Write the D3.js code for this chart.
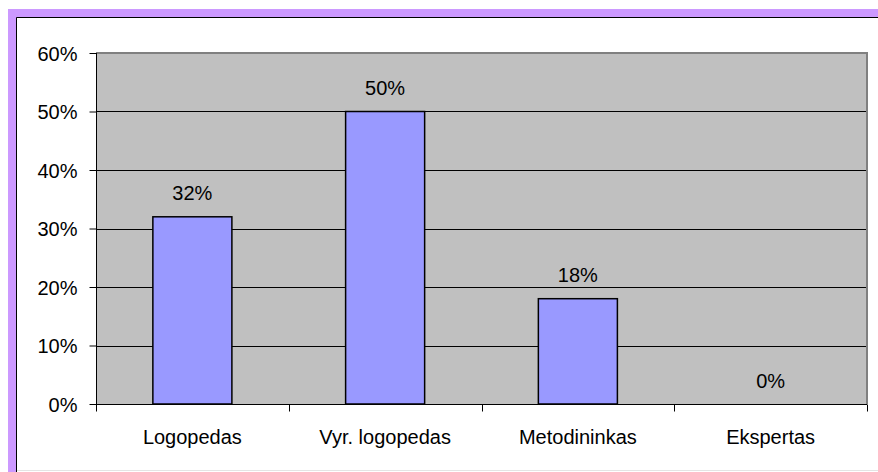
<!DOCTYPE html>
<html>
<head>
<meta charset="utf-8">
<script src="https://cdn.jsdelivr.net/npm/d3@7"></script>
<style>
  html, body { margin: 0; padding: 0; background: #fff; }
  svg { display: block; font-family: "Liberation Sans", Arial, sans-serif; }
</style>
</head>
<body>
<svg id="chart" width="878" height="472"></svg>
<script>
// chart data
const categories = ["Logopedas", "Vyr. logopedas", "Metodininkas", "Ekspertas"];
const shares = [32, 50, 18, 0];
const yTicks = [0, 10, 20, 30, 40, 50, 60];

var svg = d3.select("#chart"),
    width = +svg.attr("width"),
    height = +svg.attr("height");

// purple frame with black inner edge
svg.append("rect").attr("x", 8).attr("y", 9).attr("width", width).attr("height", height)
  .attr("fill", "#CC99FF");
svg.append("rect").attr("x", 17).attr("y", 18).attr("width", width).attr("height", height)
  .attr("fill", "#fff");
svg.append("line").attr("x1", 16.5).attr("x2", width).attr("y1", 17.5).attr("y2", 17.5)
  .attr("stroke", "#000");
svg.append("line").attr("x1", 16.5).attr("x2", 16.5).attr("y1", 17.5).attr("y2", height)
  .attr("stroke", "#000");
svg.append("line").attr("x1", 17).attr("x2", width).attr("y1", 470.5).attr("y2", 470.5)
  .attr("stroke", "#e4e4e4");

const plot = { left: 96, top: 53, right: 867, bottom: 404 };

var x = d3.scaleBand()
    .domain(categories)
    .range([plot.left, plot.right])
    .paddingInner(0.59)
    .paddingOuter(0.295);

var y = d3.scaleLinear()
    .domain([0, 60])
    .range([plot.bottom, plot.top]);

// plot background
svg.append("rect")
  .attr("x", plot.left).attr("y", plot.top)
  .attr("width", plot.right - plot.left).attr("height", plot.bottom - plot.top)
  .attr("fill", "#C0C0C0");

// gridlines
svg.append("g").selectAll("line")
  .data(yTicks.filter(d => d > 0 && d < 60))
  .enter().append("line")
    .attr("x1", plot.left).attr("x2", plot.right)
    .attr("y1", d => Math.round(y(d)) + 0.5).attr("y2", d => Math.round(y(d)) + 0.5)
    .attr("stroke", "#000").attr("stroke-width", 1);

// plot border top/right
svg.append("path")
  .attr("d", `M${plot.left},${plot.top} H${plot.right} V${plot.bottom}`)
  .attr("fill", "none").attr("stroke", "#808080").attr("stroke-width", 2);

// bars
svg.append("g").selectAll("rect")
  .data(shares)
  .enter().append("rect")
    .attr("x", (d, i) => x(categories[i]))
    .attr("y", d => y(d))
    .attr("width", x.bandwidth())
    .attr("height", d => y(0) - y(d))
    .attr("fill", "#9999FF")
    .attr("stroke", d => d > 0 ? "#000" : "none")
    .attr("stroke-width", 1.5);

// value labels
svg.append("g").selectAll("text")
  .data(shares)
  .enter().append("text")
    .attr("x", (d, i) => x(categories[i]) + x.bandwidth() / 2)
    .attr("y", d => y(d) - 16.5)
    .attr("text-anchor", "middle")
    .attr("font-size", 20)
    .attr("fill", "#000")
    .text(d => d + "%");

// y axis
var yAxis = d3.axisLeft(y)
    .tickValues(yTicks)
    .tickSize(7)
    .tickPadding(12)
    .tickFormat(d => d + "%");

var gy = svg.append("g")
    .attr("transform", `translate(${plot.left + 0.5},0)`)
    .call(yAxis);
gy.select(".domain").attr("stroke", "#000").attr("d", `M0,${plot.top}V${plot.bottom}`);
gy.selectAll(".tick line").attr("stroke", "#000");
gy.selectAll(".tick text")
  .attr("font-size", 20)
  .attr("font-family", "Liberation Sans, Arial, sans-serif")
  .attr("fill", "#000")
  .attr("dy", "0.36em");

// x axis with ticks at category boundaries
var step = x.step();
var gx = svg.append("g").attr("transform", `translate(0,${plot.bottom + 0.5})`);
gx.append("line")
  .attr("x1", plot.left).attr("x2", plot.right)
  .attr("stroke", "#000");
gx.selectAll(".bound")
  .data(d3.range(categories.length + 1))
  .enter().append("line")
    .attr("class", "bound")
    .attr("x1", i => Math.round(plot.left + i * step) + 0.5)
    .attr("x2", i => Math.round(plot.left + i * step) + 0.5)
    .attr("y1", 0).attr("y2", 7)
    .attr("stroke", "#000");
gx.selectAll(".cat")
  .data(categories)
  .enter().append("text")
    .attr("class", "cat")
    .attr("x", d => x(d) + x.bandwidth() / 2)
    .attr("y", 443 - plot.bottom)
    .attr("text-anchor", "middle")
    .attr("font-size", 20)
    .attr("fill", "#000")
    .text(d => d);
</script>
</body>
</html>
